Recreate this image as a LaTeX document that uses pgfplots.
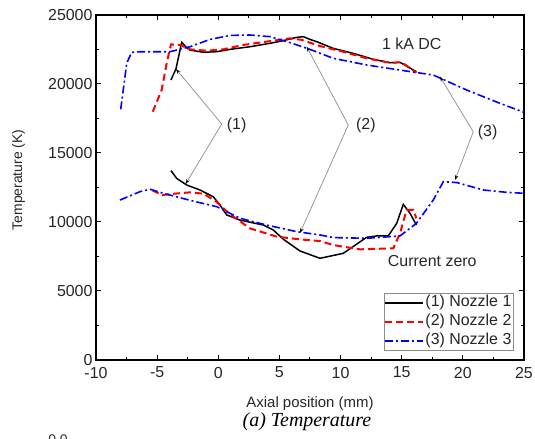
\documentclass[border=0pt]{standalone}
\usepackage{fontspec}
\setmainfont{Liberation Sans}
\newfontfamily\capfont{Liberation Serif}
\usepackage{pgfplots}
\pgfplotsset{compat=1.18}
\usetikzlibrary{arrows.meta}
\definecolor{annot}{RGB}{140,140,140}
\begin{document}
\begin{tikzpicture}
\useasboundingbox (-96bp,-79bp) rectangle (439bp,360bp);
\begin{axis}[
  at={(0,0)}, anchor=south west,
  scale only axis, width=428bp, height=345bp,
  xmin=-10, xmax=25, ymin=0, ymax=25000,
  xtick={-10,-5,...,25}, ytick={0,5000,...,25000},
  minor x tick num=1, minor y tick num=1,
  tick align=inside, tick pos=both,
  major tick length=5bp, minor tick length=3bp,
  axis line style={line width=1.2bp},
  every tick/.style={black, line width=1bp},
  scaled y ticks=false,
  /pgf/number format/assume math mode=true,
  yticklabel style={/pgf/number format/1000 sep={}},
  ticklabel style={font=\fontsize{16}{19}\selectfont, text=black!85},
  xticklabel style={yshift=-3.5bp},
  xlabel={Axial position (mm)},
  ylabel={Temperature (K)},
  xlabel style={font=\fontsize{15}{18}\selectfont, at={(axis description cs:0.5,-0.127)}, anchor=center, text=black!85},
  ylabel style={font=\fontsize{14}{17}\selectfont, at={(axis description cs:-0.181,0.522)}, anchor=center, text=black!85},
  legend style={at={(axis description cs:1,0)}, anchor=south east, xshift=-10.7bp, yshift=9.3bp,
    draw=annot, line width=0.8bp, inner sep=0pt, row sep=0pt,
    font=\fontsize{16}{19}\selectfont,
    nodes={inner xsep=1.5bp, inner ysep=1.5bp, text height=12bp, text depth=4bp, text=black!85}},
  legend cell align=left,
  legend image code/.code={\draw[#1] (0bp,0bp) -- (38bp,0bp);},
]
% Nozzle 1 (black)
\addplot[black, line width=1.5bp] coordinates {
(-3.87,20290) (-3.46,21100) (-2.99,23020) (-2.6,22650) (-2.31,22460) (-1.23,22300)
(-0.13,22340) (0.96,22510) (2.59,22700) (4.23,22950) (5.32,23140) (6.41,23380)
(6.95,23430) (7.5,23230) (8.05,23070) (9.4,22580) (11.04,22220) (12.67,21790)
(14.04,21540) (14.86,21570) (16.2,20890)};
\addlegendentry{(1) Nozzle 1}
% Nozzle 2 (red)
\addplot[red, line width=2bp, dash pattern=on 7bp off 4bp] coordinates {
(-5.36,17990) (-4.63,19570) (-4.22,21500) (-3.87,22870) (-3.13,22830) (-2.31,22510)
(-0.95,22410) (0.41,22510) (2.04,22830) (3.95,23070) (5.86,23310) (6.8,23200)
(8.32,22750) (10.2,22340) (12.13,21860) (14.04,21540) (15.0,21570) (16.2,20820)};
\addlegendentry{(2) Nozzle 2}
% Nozzle 3 (blue)
\addplot[blue, line width=1.6bp, dash pattern=on 8bp off 3bp on 2bp off 3bp] coordinates {
(-7.98,18160) (-7.77,19570) (-7.49,21500) (-7.08,22300) (-6.4,22340) (-3.95,22340)
(-2.31,22700) (-0.68,23230) (0.96,23520) (2.59,23550) (4.23,23430) (5.86,23000)
(7.5,22510) (9.4,21860) (12.13,21380) (14.86,21010) (17.58,20650) (20.3,19570)
(23.03,18600) (25,17950)};
\addlegendentry{(3) Nozzle 3}
% lower branches
\addplot[black, line width=1.5bp, forget plot] coordinates {
(-3.87,13720) (-3.4,13160) (-2.58,12680) (-1.5,12320) (-0.41,11830) (0.14,11230)
(0.69,10510) (1.77,10140) (3.68,9780) (4.5,9420) (5.32,8750) (6.68,7900)
(8.32,7370) (10.22,7730) (12.13,8890) (12.95,8990) (13.9,8990) (14.59,9900)
(15.13,11280) (15.68,10630) (16.2,9780)};
\addplot[red, line width=2bp, dash pattern=on 7bp off 4bp, forget plot] coordinates {
(-5.4,12300) (-4.6,11950) (-3.6,12050) (-2.31,12150) (-1.2,12050) (-0.2,11500)
(0.9,10600) (2.59,9540) (4.77,8940) (6.68,8740) (8.32,8620) (9.4,8330)
(11.59,8020) (14.31,8090) (14.86,9180) (15.4,10870) (15.95,10870) (16.2,10270)};
\addplot[blue, line width=1.6bp, dash pattern=on 8bp off 3bp on 2bp off 3bp, forget plot] coordinates {
(-8.04,11590) (-6.4,12200) (-5.58,12370) (-4.5,12080) (-2.31,11570) (-0.13,11110)
(1.77,10270) (3.95,9780) (6.41,9300) (8.32,9060) (9.4,8870) (12.13,8820)
(14.86,8990) (16.2,9900) (17.58,11590) (18.4,12920) (19.5,12860) (21.67,12320)
(23.58,12150) (25,12080)};
% annotations
\tikzset{ann/.style={annot, line width=0.7bp, -{Stealth[color=black,length=5bp,width=3.5bp]}}}
\draw[ann] (axis cs:0.28,17100) -- (axis cs:-3.46,21086);
\draw[ann] (axis cs:0.28,17100) -- (axis cs:-2.67,12753);
\draw[ann] (axis cs:10.63,17028) -- (axis cs:7.23,22703);
\draw[ann] (axis cs:10.63,17028) -- (axis cs:6.68,9202);
\draw[ann] (axis cs:20.85,16543) -- (axis cs:18.13,20528);
\draw[ann] (axis cs:20.85,16543) -- (axis cs:19.36,13043);
\tikzset{lab/.style={font=\fontsize{16}{19}\selectfont, text=black!85, inner sep=0pt}}
\node[lab, anchor=west] at (axis cs:0.69,17028) {(1)};
\node[lab, anchor=west] at (axis cs:11.26,17028) {(2)};
\node[lab, anchor=west] at (axis cs:21.21,16521) {(3)};
\node[lab] at (axis cs:15.82,22898) {1 kA DC};
\node[lab] at (axis cs:17.5,7173) {Current zero};
\end{axis}
\node[font=\capfont\itshape\fontsize{20}{23}\selectfont, anchor=center, inner sep=0pt] at (211bp,-62bp) {(a) Temperature};
\node[font=\fontsize{14}{17}\selectfont, anchor=north, text=black!80, inner sep=0pt] at (-38bp,-75bp) {0.0};
\end{tikzpicture}
\end{document}
